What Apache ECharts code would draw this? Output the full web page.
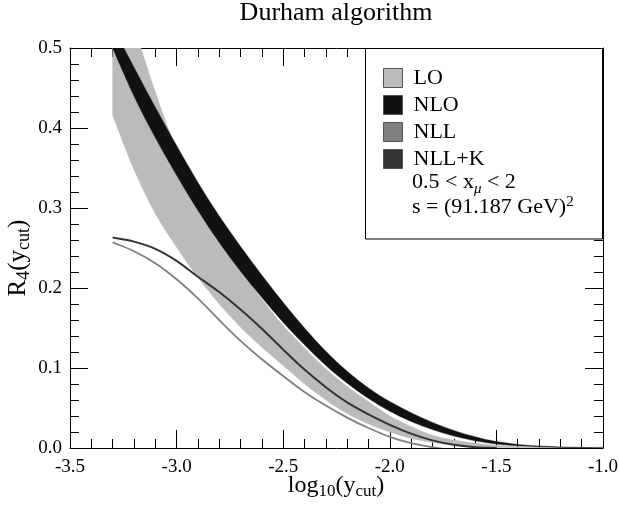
<!DOCTYPE html>
<html>
<head>
<meta charset="utf-8">
<script src="https://cdn.jsdelivr.net/npm/echarts/dist/echarts.min.js"></script>
<style>html,body{margin:0;padding:0;background:#fff}#c{width:619px;height:508px}
#fontwarm{position:absolute;left:0;top:0;font:19px 'Liberation Serif';color:#fff;opacity:0.01;pointer-events:none}</style>
</head>
<body>
<div id="fontwarm">-3.5 0.0 0.1 0.2 0.3 0.4 0.5</div>
<div id="c"></div>
<script>
// ---- data ----
const xs = [-3.3,-3.2,-3.1,-3.0,-2.9,-2.8,-2.7,-2.6,-2.5,-2.4,-2.3,-2.2,-2.1,-2.0,-1.9,-1.8,-1.7,-1.6,-1.5,-1.4,-1.3,-1.2,-1.1,-1.0];
const loUpper  = [0.620,0.528,0.445,0.372,0.310,0.262,0.222,0.186,0.153,0.125,0.099,0.077,0.058,0.040,0.027,0.016,0.010,0.006,0.0035,0.002,0.0015,0.0012,0.0010,0.0010];
const loLower  = [0.416,0.348,0.293,0.251,0.213,0.180,0.151,0.126,0.103,0.080,0.060,0.043,0.030,0.020,0.012,0.007,0.0035,0.0015,0.0007,0.0003,0.0002,0.0001,0.0001,0.0001];
const nloUpper = [0.527,0.476,0.426,0.378,0.332,0.290,0.252,0.216,0.182,0.150,0.121,0.096,0.075,0.058,0.044,0.032,0.022,0.014,0.008,0.0045,0.0025,0.0012,0.0006,0.0003];
const nloLower = [0.500,0.440,0.388,0.341,0.297,0.257,0.221,0.188,0.157,0.129,0.103,0.081,0.062,0.046,0.033,0.023,0.015,0.009,0.005,0.0028,0.0015,0.0008,0.0004,0.0002];
const nll      = [0.257,0.246,0.231,0.211,0.187,0.160,0.134,0.111,0.090,0.070,0.053,0.038,0.025,0.014,0.006,0.001,-0.003,null,null,null,null,null,null,null];
const nllK     = [0.263,0.258,0.249,0.234,0.214,0.195,0.173,0.149,0.123,0.098,0.076,0.057,0.042,0.029,0.018,0.0095,0.004,0.001,0.0,null,null,null,null,null];
const xTickLabels = ['-3.5','-3.0','-2.5','-2.0','-1.5','-1.0'];
const yTickLabels = ['0.0','0.1','0.2','0.3','0.4','0.5'];
const legendNames = ['LO','NLO','NLL','NLL+K'];
const titleText = 'Durham algorithm';

// ---- styling ----
const FONT = "Liberation Serif";
const COLORS = {'LO':'#bbbbbb','NLO':'#111111','NLL':'#7f7f7f','NLL+K':'#333333'};
const X_MIN = -3.5, X_MAX = -1.0, X_INT = 0.5;
const Y_MIN = 0, Y_MAX = 0.5, Y_INT = 0.1;

function curveCmds(p) {
  let s = '';
  for (let i = 0; i < p.length - 1; i++) {
    const p0 = p[Math.max(i - 1, 0)], p1 = p[i], p2 = p[i + 1], p3 = p[Math.min(i + 2, p.length - 1)];
    const c1 = [p1[0] + (p2[0] - p0[0]) / 6, p1[1] + (p2[1] - p0[1]) / 6];
    const c2 = [p2[0] - (p3[0] - p1[0]) / 6, p2[1] - (p3[1] - p1[1]) / 6];
    s += ' C' + c1[0] + ' ' + c1[1] + ' ' + c2[0] + ' ' + c2[1] + ' ' + p2[0] + ' ' + p2[1];
  }
  return s;
}
function bandSeries(name, lower, upper) {
  return {
    name: name, type: 'custom', clip: true, silent: true,
    data: xs.map((x, i) => [x, lower[i], upper[i]]),
    encode: { x: 0, y: [1, 2] },
    itemStyle: { color: COLORS[name] },
    renderItem: function (params, api) {
      if (params.dataIndex !== 0) return null;
      const top = xs.map((x, i) => api.coord([x, upper[i]]));
      const bot = xs.map((x, i) => api.coord([x, lower[i]])).reverse();
      const d = 'M' + top[0][0] + ' ' + top[0][1] + curveCmds(top) +
                ' L' + bot[0][0] + ' ' + bot[0][1] + curveCmds(bot) + ' Z';
      return { type: 'path', shape: { pathData: d },
               style: { fill: COLORS[name], stroke: COLORS[name], lineWidth: 0.4 } };
    }
  };
}
function lineSeries(name, vals, width) {
  const idx = xs.map((x, i) => i).filter(i => vals[i] !== null);
  return {
    name: name, type: 'custom', clip: true, silent: true,
    data: idx.map(i => [xs[i], vals[i]]),
    encode: { x: 0, y: 1 },
    itemStyle: { color: COLORS[name] },
    renderItem: function (params, api) {
      if (params.dataIndex !== 0) return null;
      const pts = idx.map(i => api.coord([xs[i], vals[i]]));
      const d = 'M' + pts[0][0] + ' ' + pts[0][1] + curveCmds(pts);
      return { type: 'path', shape: { pathData: d },
               style: { fill: null, stroke: COLORS[name], lineWidth: width, lineJoin: 'round' } };
    }
  };
}

const axisCommon = {
  type: 'value',
  axisLine: { show: true, onZero: false, lineStyle: { color: '#000', width: 1 } },
  axisTick: { show: true, inside: true, length: 18, lineStyle: { color: '#000', width: 1 } },
  minorTick: { show: true, splitNumber: 5, length: 9, lineStyle: { color: '#000', width: 1 } },
  splitLine: { show: false }, minorSplitLine: { show: false }
};
const tickRich = { t: { fontFamily: FONT, fontSize: 19, lineHeight: 19, color: '#000', fontStyle: 'normal', fontWeight: 'normal' } };

function buildOption() {
  return {
    animation: false,
    backgroundColor: '#fff',
    textStyle: { fontFamily: FONT, color: '#000' },
    title: {
      text: titleText, left: 336, top: 0, textAlign: 'center', padding: 0,
      textStyle: { fontFamily: FONT, fontSize: 26, fontWeight: 'normal', color: '#000' }
    },
    grid: { left: 70, right: 16, top: 48, bottom: 60, containLabel: false, outerBoundsMode: 'none' },
    xAxis: [
      Object.assign({}, axisCommon, { min: X_MIN, max: X_MAX, interval: X_INT, position: 'bottom',
        axisLabel: { show: true, margin: 10, fontFamily: FONT, fontSize: 19, color: '#000', rich: tickRich,
          formatter: v => '{t|' + xTickLabels[Math.round((v - X_MIN) / X_INT)] + '}' } }),
      Object.assign({}, axisCommon, { min: X_MIN, max: X_MAX, interval: X_INT, position: 'top', axisLabel: { show: false } })
    ],
    yAxis: [
      Object.assign({}, axisCommon, { min: Y_MIN, max: Y_MAX, interval: Y_INT, position: 'left',
        axisLabel: { show: true, margin: 8, fontFamily: FONT, fontSize: 19, color: '#000', rich: tickRich,
          formatter: v => '{t|' + yTickLabels[Math.round((v - Y_MIN) / Y_INT)] + '}' } }),
      Object.assign({}, axisCommon, { min: Y_MIN, max: Y_MAX, interval: Y_INT, position: 'right', axisLabel: { show: false } })
    ],
    legend: {
      orient: 'vertical', left: 383, top: 67, padding: 0, itemWidth: 19, itemHeight: 19, itemGap: 5,
      icon: 'rect', selectedMode: false, z: 60,
      textStyle: { fontFamily: FONT, fontSize: 22, color: '#000', padding: [0, 0, 0, 6] },
      data: legendNames.map(n => ({ name: n, itemStyle: { color: COLORS[n], borderColor: '#555', borderWidth: 1 } }))
    },
    graphic: [
      { type: 'rect', z: 50, shape: { x: 365.5, y: 48.5, width: 237, height: 190.5 },
        style: { fill: '#fff', stroke: '#000', lineWidth: 1 } },
      { type: 'text', z: 61, x: 412, y: 186,
        style: { text: '{m|0.5 < x}{s|μ}{m| < 2}', verticalAlign: 'middle', align: 'left',
          rich: { m: { fontFamily: FONT, fontSize: 22, lineHeight: 22, padding: [0, 0, 4, 0], verticalAlign: 'bottom', fill: '#000' },
                  s: { fontFamily: FONT, fontSize: 15, lineHeight: 15, fontStyle: 'italic', verticalAlign: 'bottom', fill: '#000' } } } },
      { type: 'text', z: 61, x: 412, y: 205.5,
        style: { text: '{m|s = (91.187 GeV)}{p|2}', verticalAlign: 'middle', align: 'left',
          rich: { m: { fontFamily: FONT, fontSize: 22, lineHeight: 22, padding: [2, 0, 0, 0], verticalAlign: 'top', fill: '#000' },
                  p: { fontFamily: FONT, fontSize: 15, lineHeight: 15, verticalAlign: 'top', fill: '#000' } } } },
      { type: 'text', z: 61, x: 336, y: 488.5,
        style: { text: '{m|log}{s|10}{m|(y}{s|cut}{m|)}', verticalAlign: 'middle', align: 'center',
          rich: { m: { fontFamily: FONT, fontSize: 24, lineHeight: 24, padding: [0, 0, 3, 0], verticalAlign: 'bottom', fill: '#000' },
                  s: { fontFamily: FONT, fontSize: 17, lineHeight: 17, verticalAlign: 'bottom', fill: '#000' } } } },
      { type: 'text', z: 61, x: 21, y: 258, rotation: Math.PI / 2,
        style: { text: '{m|R}{s|4}{m|(y}{s|cut}{m|)}', verticalAlign: 'middle', align: 'center',
          rich: { m: { fontFamily: FONT, fontSize: 25, lineHeight: 25, padding: [0, 0, 3, 0], verticalAlign: 'bottom', fill: '#000' },
                  s: { fontFamily: FONT, fontSize: 18, lineHeight: 18, verticalAlign: 'bottom', fill: '#000' } } } }
    ],
    series: [
      bandSeries('LO', loLower, loUpper),
      bandSeries('NLO', nloLower, nloUpper),
      lineSeries('NLL', nll, 1.8),
      lineSeries('NLL+K', nllK, 2)
    ]
  };
}

const chart = echarts.init(document.getElementById('c'), null, { renderer: 'canvas' });
chart.setOption(buildOption());
if (document.fonts && document.fonts.load) {
  document.fonts.load("19px 'Liberation Serif'").then(function () {
    chart.clear();
    chart.setOption(buildOption(), true);
  });
}
</script>
</body>
</html>
